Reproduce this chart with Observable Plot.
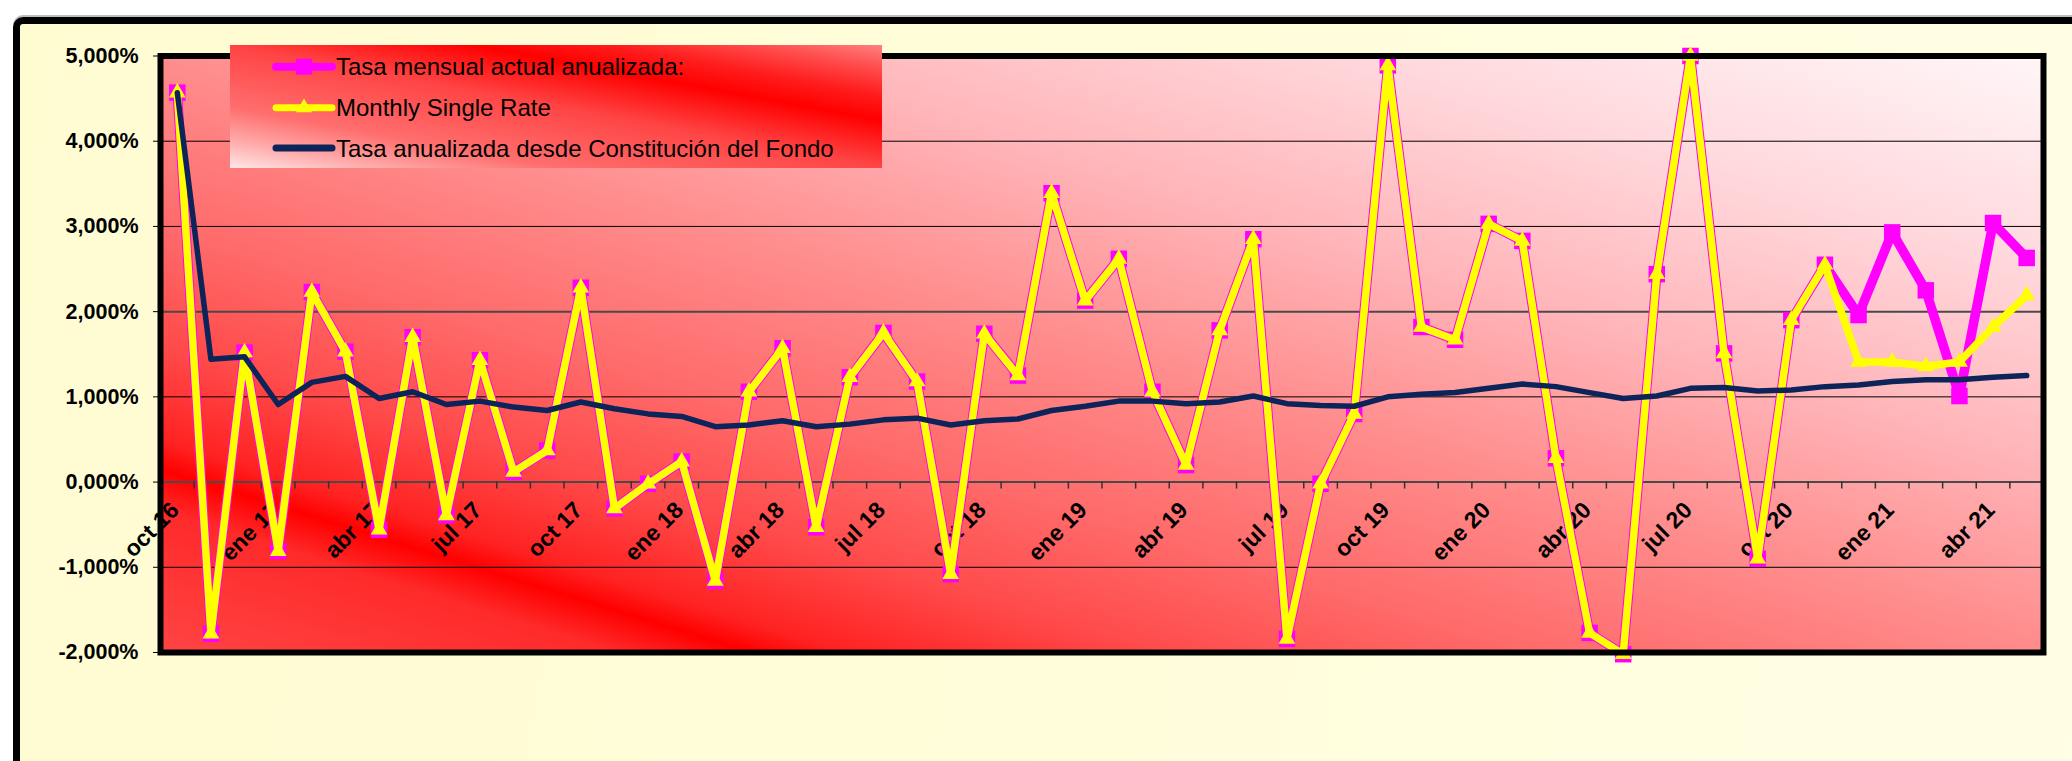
<!DOCTYPE html>
<html>
<head>
<meta charset="utf-8">
<script src="https://cdn.jsdelivr.net/npm/d3@7"></script>
<script src="https://cdn.jsdelivr.net/npm/@observablehq/plot@0.6"></script>
<style>
  html, body { margin: 0; padding: 0; background: #ffffff; overflow: hidden; }
  #wrap { position: relative; width: 2072px; height: 761px; overflow: hidden; background: #ffffff; }
  #outer { position: absolute; left: 13px; top: 17px; width: 2120px; height: 800px;
    border: 7px solid #000; border-radius: 10px; box-sizing: border-box;
    background: linear-gradient(100deg, #fffcd2 0%, #fffdd9 50%, #fffee6 100%);
    box-shadow: 0 -2px 0 #bdbdbd; }
  #plotbg { position: absolute; left: 160px; top: 55.5px; width: 1883px; height: 596.5px;
    background: linear-gradient(17.2deg, #ff4444 0%, #ff2a2a 12%, #ff0000 15.5%, #ff2222 18%, #ff4a4a 26%, #ff6a6a 36%, #ff8c8c 50%, #ffb6ba 66%, #ffd8dc 82%, #fff6f8 100%); }
  #chart { position: absolute; left: 0; top: 0; }
  #legend { position: absolute; left: 230px; top: 45px; width: 652px; height: 123px;
    background: linear-gradient(10.5deg, #ffe6e6 0%, #ffa8a8 12%, #ff6e6e 25%, #ff4444 50%, #ff0000 69%, #ff1c1c 79%, #ff4c4c 90%, #ff8080 100%); }
  #chart svg text { font-family: "Liberation Sans", Arial, sans-serif; }
</style>
</head>
<body>
<div id="wrap">
  <div id="outer"></div>
  <div id="plotbg"></div>
  <div id="chart"></div>
  <div id="legend"></div>
</div>
<script>
// ---- Data (values in %) ----
const meses = ["oct 16","nov 16","dic 16","ene 17","feb 17","mar 17","abr 17","may 17","jun 17","jul 17","ago 17","sep 17",
  "oct 17","nov 17","dic 17","ene 18","feb 18","mar 18","abr 18","may 18","jun 18","jul 18","ago 18","sep 18",
  "oct 18","nov 18","dic 18","ene 19","feb 19","mar 19","abr 19","may 19","jun 19","jul 19","ago 19","sep 19",
  "oct 19","nov 19","dic 19","ene 20","feb 20","mar 20","abr 20","may 20","jun 20","jul 20","ago 20","sep 20",
  "oct 20","nov 20","dic 20","ene 21","feb 21","mar 21","abr 21","may 21"];

const tasaMensualAnualizada = [4.57,-1.78,1.52,-0.81,2.23,1.53,-0.56,1.70,-0.39,1.43,0.12,0.37,
  2.28,-0.31,-0.02,0.24,-1.16,1.06,1.57,-0.53,1.23,1.75,1.18,-1.08,
  1.74,1.25,3.39,2.13,2.62,1.06,0.20,1.78,2.85,-1.84,-0.02,0.80,
  4.89,1.82,1.67,3.03,2.83,0.28,-1.77,-2.02,2.44,5.00,1.51,-0.90,
  1.90,2.55,1.96,2.93,2.25,1.01,3.04,2.63];

const monthlySingleRate = [4.57,-1.78,1.52,-0.81,2.23,1.53,-0.56,1.70,-0.39,1.43,0.12,0.37,
  2.28,-0.31,-0.02,0.24,-1.16,1.06,1.57,-0.53,1.23,1.75,1.18,-1.08,
  1.74,1.25,3.39,2.13,2.62,1.06,0.20,1.78,2.85,-1.84,-0.02,0.80,
  4.89,1.82,1.67,3.03,2.83,0.28,-1.77,-2.02,2.44,5.00,1.51,-0.90,
  1.90,2.55,1.41,1.41,1.36,1.41,1.82,2.19];

const tasaDesdeConstitucion = [4.57,1.44,1.47,0.91,1.17,1.24,0.98,1.06,0.91,0.95,0.88,0.84,
  0.94,0.86,0.80,0.77,0.65,0.67,0.72,0.65,0.68,0.73,0.75,0.67,
  0.72,0.74,0.84,0.89,0.95,0.95,0.92,0.94,1.01,0.92,0.90,0.89,
  1.00,1.03,1.05,1.10,1.15,1.12,1.05,0.98,1.01,1.10,1.11,1.07,
  1.08,1.12,1.14,1.18,1.20,1.20,1.23,1.25];

const etiquetasX = ["oct 16","ene 17","abr 17","jul 17","oct 17","ene 18","abr 18","jul 18","oct 18","ene 19",
  "abr 19","jul 19","oct 19","ene 20","abr 20","jul 20","oct 20","ene 21","abr 21"];

const ticksY = [-2, -1, 0, 1, 2, 3, 4, 5];

const seriesNames = ["Tasa mensual actual anualizada:", "Monthly Single Rate", "Tasa anualizada desde Constitución del Fondo"];
const seriesColors = ["#ff00ff", "#ffff00", "#0c2459"];

// ---- Build table ----
const rows = meses.map((m, i) => ({i, m, a: tasaMensualAnualizada[i], b: monthlySingleRate[i], c: tasaDesdeConstitucion[i]}));
const labelRows = etiquetasX.map(t => ({t, i: meses.indexOf(t)}));
const bounds = meses.map((m, i) => i + 0.5);
const fmt = d => d.toFixed(3).replace(".", ",") + "%";
const FONT = "Liberation Sans, Arial, sans-serif";

const chart = Plot.plot({
  width: 2072,
  height: 761,
  marginLeft: 160,
  marginRight: 29,
  marginTop: 55.5,
  marginBottom: 109,
  x: {domain: [-0.5, meses.length - 0.5], axis: null},
  y: {domain: [-2, 5], axis: null},
  style: "background: transparent; font-family: 'Liberation Sans', Arial, sans-serif; font-weight: bold; font-size: 21px; color: #000; overflow: visible;",
  marks: [
    Plot.gridY(ticksY.filter(d => d > -2 && d < 5 && d !== 0 && d !== 2), {stroke: "#000", strokeOpacity: 1, strokeWidth: 1}),
    Plot.gridY([0, 2], {stroke: "#4a4a4a", strokeOpacity: 1, strokeWidth: 2}),
    Plot.axisY(ticksY, {tickFormat: fmt, tickSize: 7, tickPadding: 15, fontSize: 21.5, fontFamily: FONT, fontWeight: "bold", stroke: "#000", fill: "#000", label: null}),
    Plot.ruleX(bounds, {x: d => d, y1: 0, y2: 0, insetBottom: -7, stroke: "#333", strokeWidth: 1.5}),
    Plot.text(labelRows, {x: "i", y: () => 0, text: "t", rotate: -45, textAnchor: "end", lineAnchor: "bottom",
      dx: 3, dy: 29.5, fontSize: 23, fontFamily: FONT, fontWeight: "bold", fill: "#000"}),
    Plot.line(rows, {x: "i", y: "a", stroke: seriesColors[0], strokeWidth: 9.5}),
    Plot.dot(rows, {x: "i", y: "a", symbol: "square", r: 9.3, fill: seriesColors[0]}),
    Plot.line(rows, {x: "i", y: "b", stroke: seriesColors[1], strokeWidth: 7.5}),
    Plot.dot(rows, {x: "i", y: "b", symbol: "triangle", r: 6.2, fill: seriesColors[1]}),
    Plot.line(rows, {x: "i", y: "c", stroke: seriesColors[2], strokeWidth: 5.5}),
    Plot.frame({stroke: "#000", strokeWidth: 6})
  ]
});
document.getElementById("chart").appendChild(chart);

// ---- Legend ----
const lg = d3.select("#legend").append("svg").attr("width", 652).attr("height", 123)
  .style("font-family", "'Liberation Sans', Arial, sans-serif");
const rowY = [21.7, 62.7, 103];
const widths = [8, 7, 7];
seriesNames.forEach((name, k) => {
  const g = lg.append("g");
  g.append("line").attr("x1", 46).attr("x2", 102).attr("y1", rowY[k]).attr("y2", rowY[k])
    .attr("stroke", seriesColors[k]).attr("stroke-width", widths[k]).attr("stroke-linecap", "round");
  if (k === 0) {
    g.append("path").attr("d", d3.symbol(d3.symbolSquare, 256)()).attr("transform", `translate(74,${rowY[k]})`).attr("fill", seriesColors[k]);
  } else if (k === 1) {
    g.append("path").attr("d", d3.symbol(d3.symbolTriangle, 110)()).attr("transform", `translate(74,${rowY[k]})`).attr("fill", seriesColors[k]);
  }
  g.append("text").attr("x", 106).attr("y", rowY[k] + 8.5).attr("font-size", 24).attr("fill", "#000").text(name);
});
</script>
</body>
</html>
